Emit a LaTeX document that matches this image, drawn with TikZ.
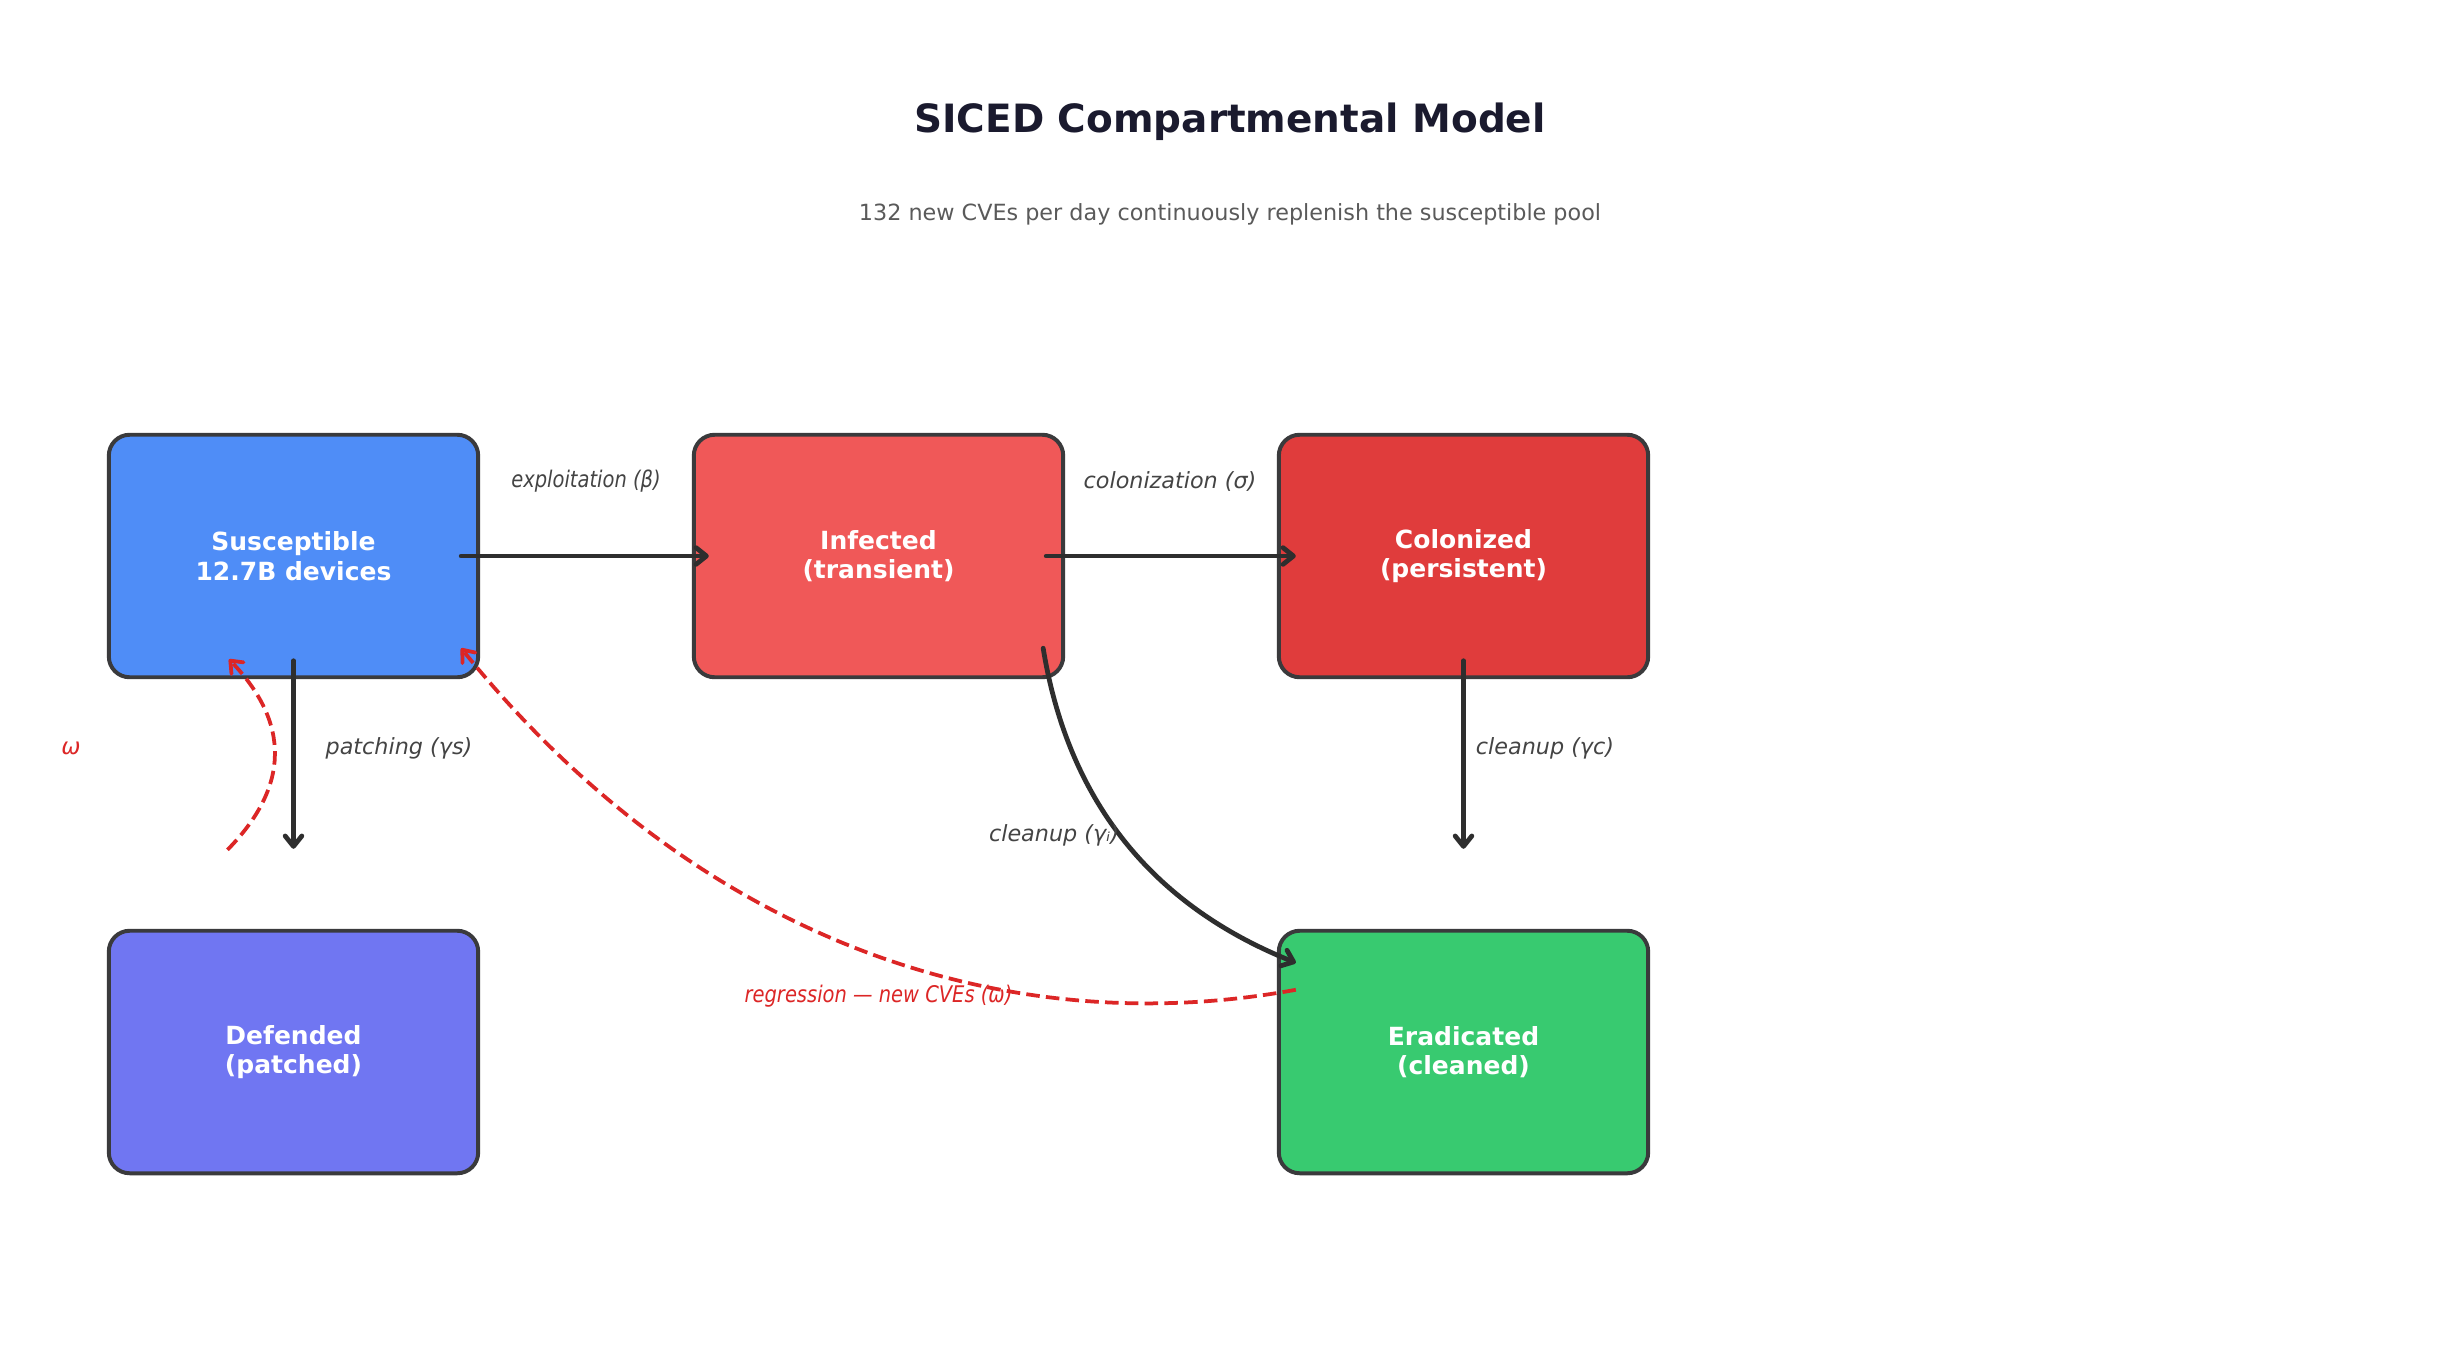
\documentclass[tikz,border=0pt]{standalone}
\usepackage{fontspec}
\setmainfont{DejaVu Sans}
\usetikzlibrary{arrows.meta,calc}
\definecolor{cS}{HTML}{4F8DF7}
\definecolor{cI}{HTML}{F05858}
\definecolor{cC}{HTML}{E03C3C}
\definecolor{cD}{HTML}{7076F2}
\definecolor{cE}{HTML}{38CA70}
\definecolor{boxedge}{HTML}{3A3A3C}
\definecolor{arrowc}{HTML}{2E2E2E}
\definecolor{redc}{HTML}{DC2626}
\definecolor{labelc}{HTML}{444444}
\definecolor{subc}{HTML}{5A5A5A}
\definecolor{titlec}{HTML}{1A1A2E}
\begin{document}
\begin{tikzpicture}[x=0.48pt, y=-0.48pt,
  box/.style={draw=boxedge, line width=1.9pt, rounded corners=10pt,
    minimum width=177.3pt, minimum height=116.4pt, align=center,
    text=white, inner sep=0pt, font=\bfseries\fontsize{12}{14.2}\selectfont},
  flow/.style={draw=arrowc, line width=2.3pt, line cap=round,
    -{Straight Barb[length=5pt,width=8pt,line width=2.3pt,round]}},
  regr/.style={draw=redc, line width=1.8pt, dash pattern=on 6.5pt off 3pt,
    -{Straight Barb[length=5pt,width=8pt,line width=1.8pt,round]}},
  elabel/.style={text=labelc, inner sep=0pt, font=\itshape\fontsize{10.7}{13}\selectfont},
  rlabel/.style={text=redc, inner sep=0pt, font=\itshape\fontsize{11}{13}\selectfont}
]
\fill[white] (0,0) rectangle (2460,1360);
\useasboundingbox (0,0) rectangle (2460,1360);

% title
\node[text=titlec, font=\bfseries\fontsize{18.7}{22}\selectfont, inner sep=0pt] (title) at (1230,122) {SICED Compartmental Model};
\node[text=subc, font=\fontsize{10.7}{13}\selectfont, inner sep=0pt] (subtitle) at (1230,214) {132 new CVEs per day continuously replenish the susceptible pool};

% compartments
\node[box, fill=cS] (S) at (293.5,556) {Susceptible\\12.7B devices};
\node[box, fill=cI] (I) at (878.5,556) {Infected\\(transient)};
\node[box, fill=cC] (C) at (1463.5,556) {Colonized\\(persistent)};
\node[box, fill=cD] (D) at (293.5,1052) {Defended\\(patched)};
\node[box, fill=cE] (E) at (1463.5,1052) {Eradicated\\(cleaned)};

% flows
\draw[flow] ($(S.east)+(-19,0)$) -- ($(I.west)+(17,0)$);
\draw[flow] ($(I.east)+(-19,0)$) -- ($(C.west)+(19,0)$);
\draw[flow] ($(S.south)+(0,-18.5)$) -- ($(D.north)+(0,-80)$);
\draw[flow] ($(C.south)+(0,-18.5)$) -- ($(E.north)+(0,-80)$);
\draw[flow] ($(I.south east)+(-22,-31)$) .. controls +(25,153) and +(-143.6,-57.4) .. ($(E.north west)+(19,34)$);

% regression loops
\draw[regr] ($(D.north)+(-66,-79)$) .. controls +(62.3,-63.3) and +(61.3,64) .. ($(S.south)+(-64.5,-20)$);
\draw[regr] ($(E.north west)+(19,61)$) .. controls +(-300,55) and +(230,285) .. ($(S.south east)+(-19,-31)$);

% labels
\node[elabel] (lexp) at (586,481) {\scalebox{0.85}[1]{\fontsize{11}{13}\selectfont exploitation (β)}};
\node[elabel] (lcol) at (1170,481) {colonization (σ)};
\node[elabel] (lpat) at (399,748) {patching (γs)};
\node[elabel] (lclc) at (1545,748) {cleanup (γc)};
\node[elabel] (lcli) at (1054,835) {cleanup (γᵢ)};
\node[rlabel] (lreg) at (878.5,996) {\scalebox{0.85}[1]{regression — new CVEs (ω)}};
\node[rlabel] (lomg) at (71,748) {ω};
\end{tikzpicture}
\end{document}
